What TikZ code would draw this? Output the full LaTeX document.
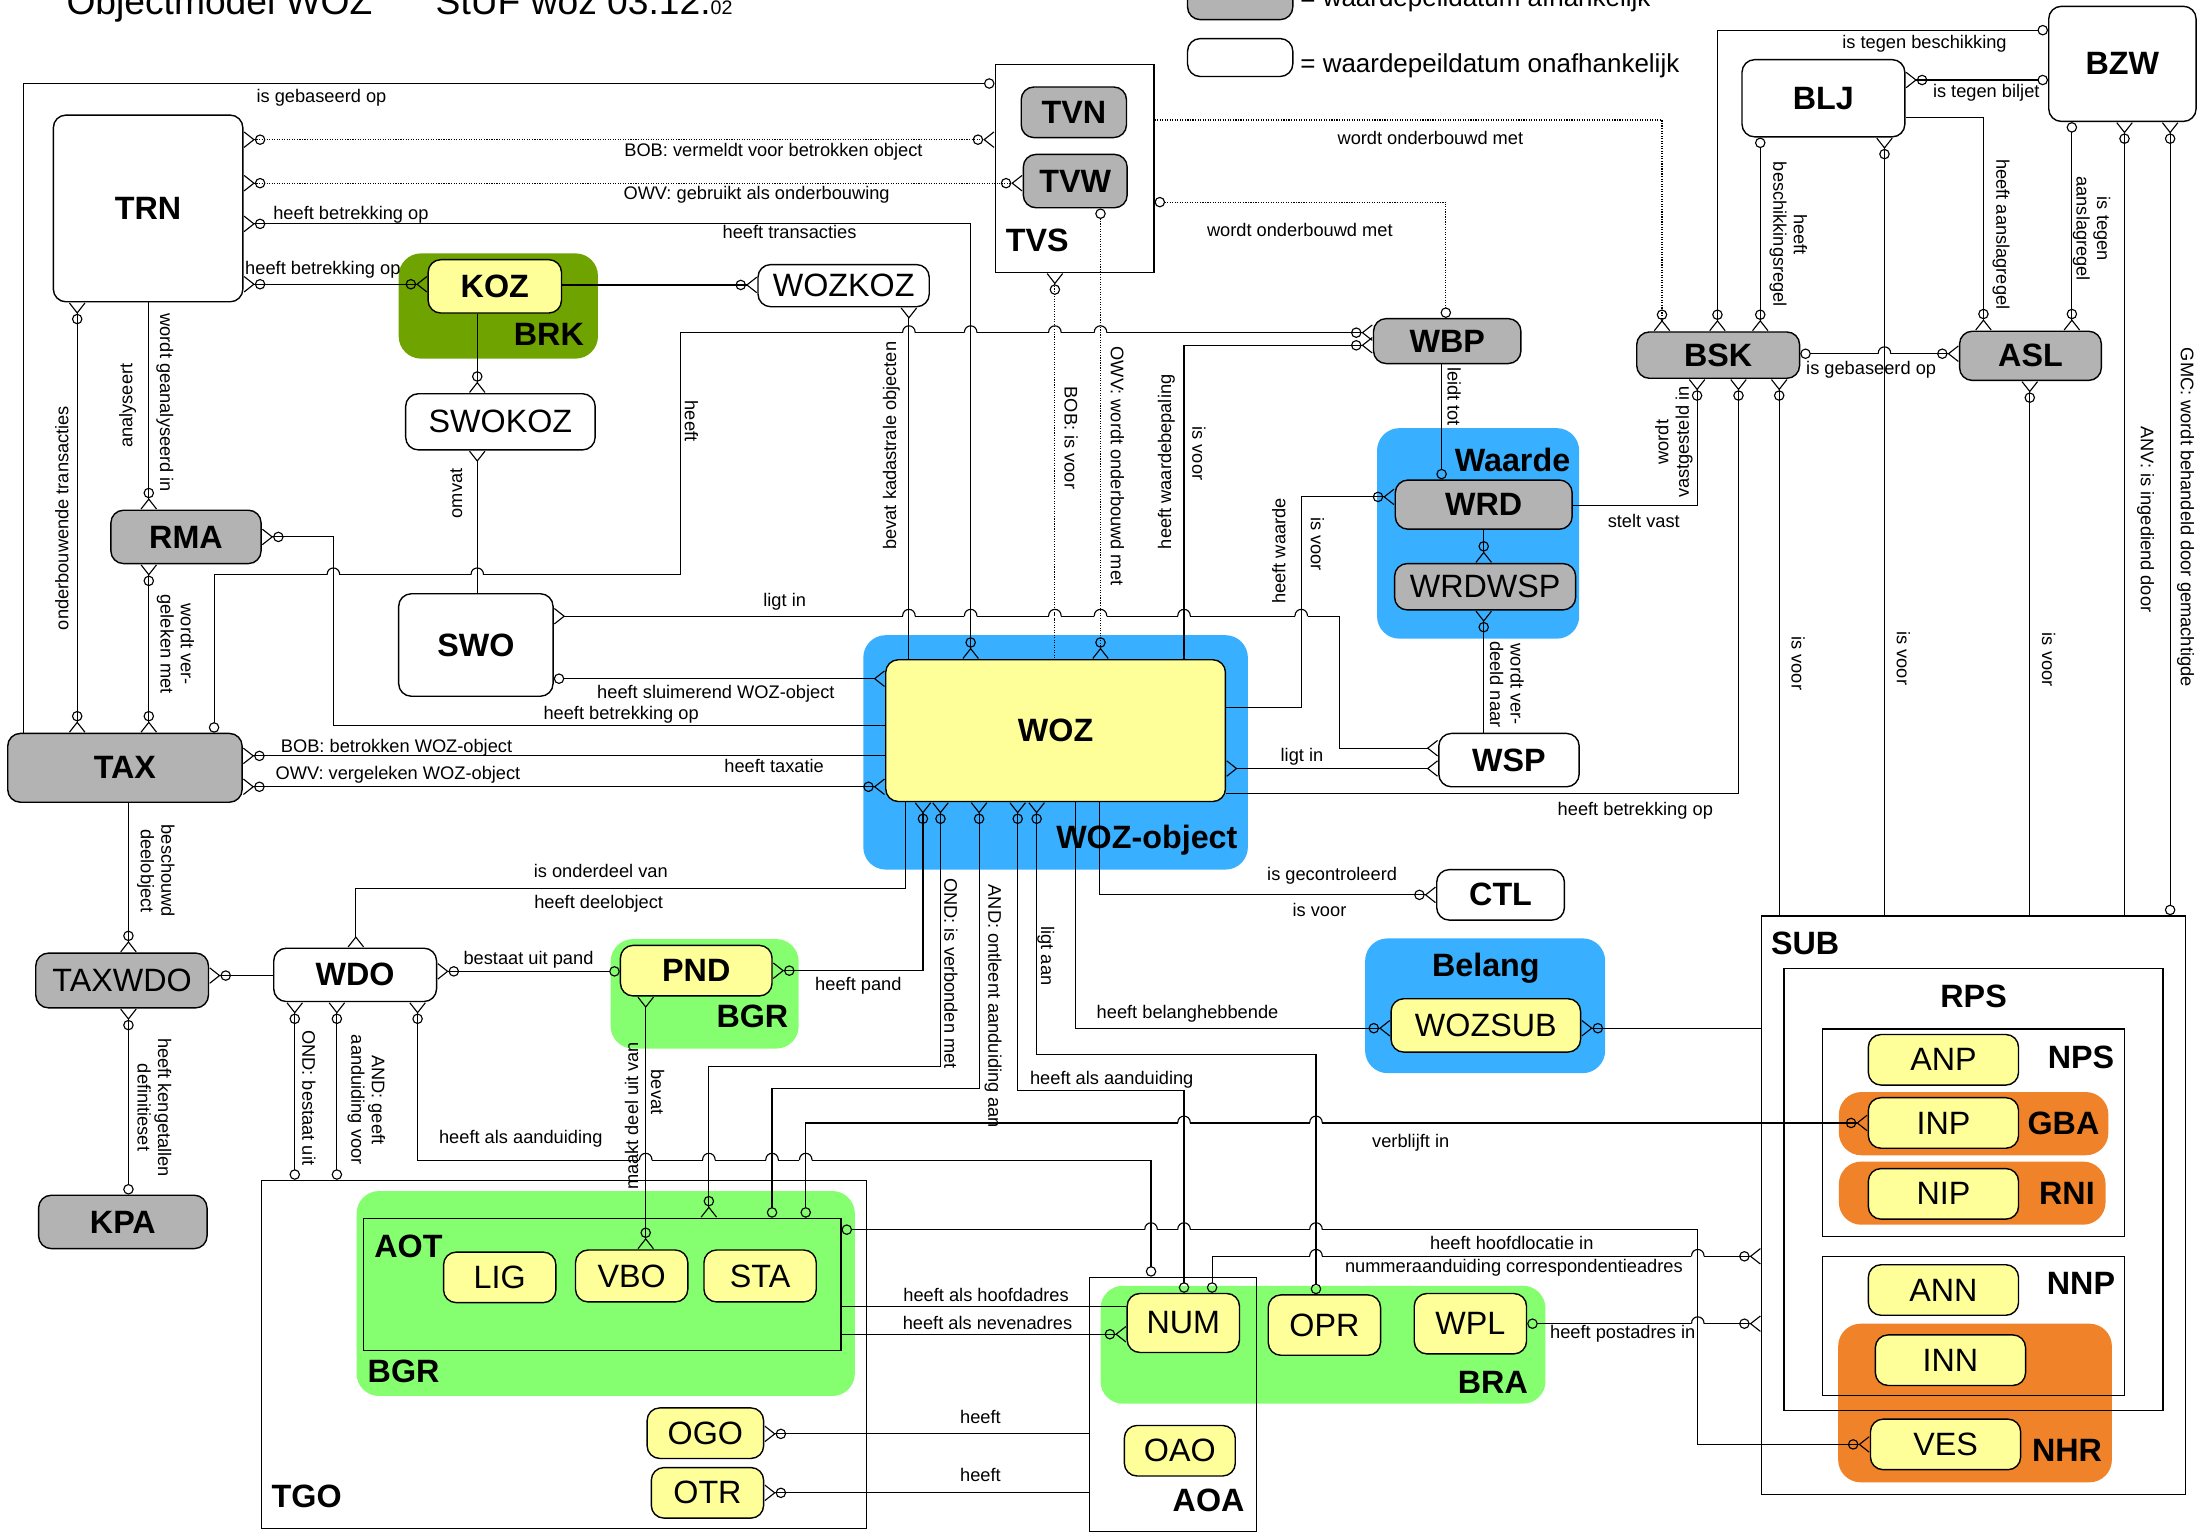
\documentclass[tikz,border=0pt]{standalone}
\usepackage{fontspec}
\setmainfont{Liberation Sans}
\usepackage{xcolor}
\usepackage{tikz}
\usetikzlibrary{arrows.meta}

\definecolor{grijs}{RGB}{179,179,179}
\definecolor{geel}{RGB}{255,255,153}
\definecolor{blauw}{RGB}{56,176,255}
\definecolor{groen}{RGB}{133,255,112}
\definecolor{donkergroen}{RGB}{110,163,0}
\definecolor{oranje}{RGB}{240,131,42}

\tikzset{
  cz/.tip={Circle[open,length=7.5pt]},
  cf/.tip={Straight Barb[reversed,length=7pt,width=11pt]},
  ent/.style={draw, rounded corners=9pt, line width=1pt, fill=white, inner sep=0pt,
    font=\fontsize{23}{26}\selectfont\bfseries},
  entr/.style={ent, font=\fontsize{23}{26}\selectfont},
  grijsent/.style={fill=grijs},
  geelent/.style={fill=geel},
  groep/.style={rounded corners=16pt, inner sep=0pt},
  kader/.style={draw, line width=1pt, inner sep=0pt},
  kop/.style={font=\fontsize{23}{26}\selectfont\bfseries, inner sep=0pt},
  lbl/.style={font=\fontsize{13}{14.5}\selectfont, inner sep=0pt, align=center},
}

\begin{document}
\begin{tikzpicture}[x=1pt, y=-1pt, line width=0.8pt]
  \useasboundingbox (0,0) rectangle (1568,1093.5);

  % titel en legenda
  \node[anchor=base west, inner sep=0pt, font=\fontsize{26.5}{30}\selectfont] (titel) at (47,10) {Objectmodel WOZ};
  \node[anchor=base west, inner sep=0pt, font=\fontsize{26.5}{30}\selectfont] (stuf) at (310,10) {StUF woz 03.12.{\fontsize{14}{16}\selectfont 02}};
  \node[ent, grijsent, minimum width=75, minimum height=28] (lega) at (883.5,0) {};
  \node[anchor=base west, inner sep=0pt, font=\fontsize{18.5}{21}\selectfont] (legatxt) at (926,4.5) {= waardepeildatum afhankelijk};
  \node[ent, minimum width=75, minimum height=27] (legb) at (883.5,41) {};
  \node[anchor=base west, inner sep=0pt, font=\fontsize{18.5}{21}\selectfont] (legbtxt) at (926,51.5) {= waardepeildatum onafhankelijk};

  % groepen
  \node[groep, fill=donkergroen, minimum width=142, minimum height=75] (brk) at (355,218) {};
  \node[groep, fill=blauw, minimum width=274, minimum height=167] (wozobj) at (752,536) {};
  \node[groep, fill=blauw, minimum width=144, minimum height=150] (waarde) at (1053,380) {};
  \node[groep, fill=blauw, minimum width=171, minimum height=96] (belang) at (1058,716.5) {};
  \node[groep, fill=groen, minimum width=134, minimum height=78] (bgrp) at (502,708) {};
  \node[groep, fill=groen, minimum width=355, minimum height=146] (bgra) at (431.5,921.5) {};
  \node[groep, fill=groen, minimum width=317, minimum height=84] (bra) at (942.5,958) {};
  \node[groep, fill=oranje, minimum width=192, minimum height=45] (gba) at (1406,800.5) {};
  \node[groep, fill=oranje, minimum width=190, minimum height=45] (rni) at (1405,850) {};
  \node[groep, fill=oranje, minimum width=195, minimum height=113] (nhr) at (1407,999.5) {};

  % kaders
  \node[kader, minimum width=113, minimum height=148] (tvs) at (765.5,120) {};
  \node[kader, minimum width=302, minimum height=412] (sub) at (1406,858.5) {};
  \node[kader, minimum width=270, minimum height=315] (rps) at (1406,847.5) {};
  \node[kader, minimum width=215, minimum height=148] (nps) at (1406,807) {};
  \node[kader, minimum width=215, minimum height=99] (nnp) at (1406,944.5) {};
  \node[kader, minimum width=431, minimum height=248] (tgo) at (402,965) {};
  \node[kader, minimum width=119, minimum height=181] (aoa) at (835.5,1000.5) {};
  \node[kader, minimum width=340, minimum height=94] (aot) at (429,915) {};

  % groepkoppen
  \node[kop] (kbrk) at (391,238) {BRK};
  \node[kop] (ktvs) at (739,171) {TVS};
  \node[kop] (kwozobj) at (817,598.5) {WOZ-object};
  \node[kop] (kwaarde) at (1077.5,328) {Waarde};
  \node[kop] (kbelang) at (1058.5,690) {Belang};
  \node[kop] (kbgrp) at (536,724) {BGR};
  \node[kop] (kbgra) at (287.5,977) {BGR};
  \node[kop] (kaot) at (291,888) {AOT};
  \node[kop] (ktgo) at (218.5,1066) {TGO};
  \node[kop] (kbra) at (1063.5,984.5) {BRA};
  \node[kop] (kaoa) at (861,1069) {AOA};
  \node[kop] (ksub) at (1286,672) {SUB};
  \node[kop] (krps) at (1406,710) {RPS};
  \node[kop] (knps) at (1482.5,753) {NPS};
  \node[kop] (kgba) at (1470,800.5) {GBA};
  \node[kop] (krni) at (1472.5,850.5) {RNI};
  \node[kop] (knnp) at (1482.5,914.5) {NNP};
  \node[kop] (knhr) at (1472.5,1033) {NHR};

  % objecten
  \node[ent, minimum width=135, minimum height=133] (trn) at (105.5,148.5) {TRN};
  \node[ent, grijsent, minimum width=75, minimum height=36] (tvn) at (765,80) {TVN};
  \node[ent, grijsent, minimum width=74, minimum height=38] (tvw) at (766,129) {TVW};
  \node[ent, geelent, minimum width=95, minimum height=38] (koz) at (352.5,204) {KOZ};
  \node[entr, minimum width=122, minimum height=30] (wozkoz) at (601,203.5) {WOZKOZ};
  \node[entr, minimum width=135, minimum height=40] (swokoz) at (356.5,300.5) {SWOKOZ};
  \node[ent, grijsent, minimum width=107, minimum height=38] (rma) at (132.5,382.5) {RMA};
  \node[ent, minimum width=110, minimum height=73] (swo) at (339,459.5) {SWO};
  \node[ent, grijsent, minimum width=167, minimum height=49] (tax) at (89,547) {TAX};
  \node[ent, geelent, minimum width=242, minimum height=101] (woz) at (752,520.5) {WOZ};
  \node[ent, grijsent, minimum width=105, minimum height=32] (wbp) at (1031,243) {WBP};
  \node[ent, grijsent, minimum width=126, minimum height=35] (wrd) at (1057,359.5) {WRD};
  \node[entr, grijsent, minimum width=129, minimum height=33] (wrdwsp) at (1058,418) {WRDWSP};
  \node[ent, minimum width=100, minimum height=38] (wsp) at (1075,541.5) {WSP};
  \node[ent, grijsent, minimum width=116, minimum height=33] (bsk) at (1224,253) {BSK};
  \node[ent, grijsent, minimum width=101, minimum height=35] (asl) at (1446.5,253.5) {ASL};
  \node[ent, minimum width=116, minimum height=55] (blj) at (1299,70) {BLJ};
  \node[ent, minimum width=105, minimum height=82] (bzw) at (1512,45.5) {BZW};
  \node[ent, minimum width=91, minimum height=36] (ctl) at (1069,637.5) {CTL};
  \node[entr, geelent, minimum width=135, minimum height=38] (wozsub) at (1058.5,730.5) {WOZSUB};
  \node[entr, geelent, minimum width=107, minimum height=36] (anp) at (1384.5,755) {ANP};
  \node[entr, geelent, minimum width=107, minimum height=36] (inp) at (1384.5,800) {INP};
  \node[entr, geelent, minimum width=107, minimum height=36] (nip) at (1384.5,850.5) {NIP};
  \node[entr, geelent, minimum width=107, minimum height=36] (ann) at (1384.5,919) {ANN};
  \node[entr, geelent, minimum width=107, minimum height=36] (inn) at (1389.5,969) {INN};
  \node[entr, geelent, minimum width=107, minimum height=36] (ves) at (1386,1029) {VES};
  \node[entr, grijsent, minimum width=123, minimum height=39] (taxwdo) at (87,698.5) {TAXWDO};
  \node[ent, minimum width=116, minimum height=38] (wdo) at (253,694.5) {WDO};
  \node[ent, grijsent, minimum width=120, minimum height=38] (kpa) at (87.5,870.5) {KPA};
  \node[ent, geelent, minimum width=108, minimum height=36] (pnd) at (496,691.5) {PND};
  \node[entr, geelent, minimum width=80, minimum height=36] (lig) at (356,910) {LIG};
  \node[entr, geelent, minimum width=80, minimum height=37] (vbo) at (450,909) {VBO};
  \node[entr, geelent, minimum width=80, minimum height=37] (sta) at (541.5,909) {STA};
  \node[entr, geelent, minimum width=83, minimum height=36] (ogo) at (502.5,1021) {OGO};
  \node[entr, geelent, minimum width=80, minimum height=36] (otr) at (504,1063.5) {OTR};
  \node[entr, geelent, minimum width=80, minimum height=42] (num) at (843,942.5) {NUM};
  \node[entr, geelent, minimum width=80, minimum height=43] (opr) at (943.5,944) {OPR};
  \node[entr, geelent, minimum width=80, minimum height=43] (wpl) at (1047.5,943) {WPL};
  \node[entr, geelent, minimum width=79, minimum height=36] (oao) at (840.5,1033.5) {OAO};

  % relaties
  \draw[-{cz[]}] (tax.north -| 16.5,0) |- (tvs.west |- 0,59.5);
  \draw[densely dotted, {cf[] cz[]}-{cz[] cf[]}] (trn.east |- 0,99.5) -- (tvs.west |- 0,99.5);
  \draw[densely dotted, {cf[] cz[]}-{cz[] cf[]}] (trn.east |- 0,130.5) -- (tvw.west |- 0,130.5);
  \draw[{cf[] cz[]}-{cz[] cf[]}] (trn.east |- 0,159.5) -| (woz.north -| 691.5,0);
  \draw[{cf[] cz[]}-{cz[] cf[]}] (trn.east |- 0,202.5) -- (koz.west |- 0,202.5);
  \draw[-{cz[] cf[]}] (koz.east |- 0,203) -- (wozkoz.west |- 0,203);
  \draw[-{cz[] cf[]}] (koz.south -| 340,0) -- (swokoz.north -| 340,0);
  \draw[{cf[]}-] (wozkoz.south -| 647.5,0) -- (woz.north -| 647.5,0);
  \draw[{cf[]}-] (swokoz.south -| 340,0) -- (swo.north -| 340,0);
  \draw[{cz[]}-{cz[] cf[]}] (tax.north -| 152.5,0) |- (485,409.5) |- (wbp.west |- 0,237);
  \draw[-{cz[] cf[]}] (trn.south -| 106,0) -- (rma.north -| 106,0);
  \draw[{cf[] cz[]}-{cz[] cf[]}] (trn.south -| 55,0) -- (tax.north -| 55,0);
  \draw[{cf[] cz[]}-{cz[] cf[]}] (rma.south -| 106,0) -- (tax.north -| 106,0);
  \draw[{cf[] cz[]}-] (rma.east |- 0,382.5) -| (237.5,517) -- (woz.west |- 0,517);
  \draw[{cf[]}-{cf[]}] (swo.east |- 0,439) -| (954,533) -- (wsp.west |- 0,533);
  \draw[{cz[]}-{cf[]}] (swo.east |- 0,483.5) -- (woz.west |- 0,483.5);
  \draw[{cf[] cz[]}-] (tax.east |- 0,538.5) -- (woz.west |- 0,538.5);
  \draw[{cf[] cz[]}-{cz[] cf[]}] (tax.east |- 0,560.5) -- (woz.west |- 0,560.5);
  \draw[densely dotted, -{cz[] cf[]}] (tvs.east |- 0,85.5) -| (bsk.north -| 1184,0);
  \draw[densely dotted, {cz[]}-{cz[]}] (tvs.east |- 0,144) -| (wbp.north -| 1030,0);
  \draw[densely dotted, {cf[] cz[]}-] (tvs.south -| 751.5,0) -- (woz.north -| 751.5,0);
  \draw[densely dotted, {cz[]}-{cz[] cf[]}] (tvw.south -| 784,0) -- (woz.north -| 784,0);
  \draw[-{cz[] cf[]}] (woz.north -| 843.5,0) |- (wbp.west |- 0,246);
  \draw[-{cz[]}] (wbp.south -| 1027,0) -- (wrd.north -| 1027,0);
  \draw[-{cz[] cf[]}] (wrd.south -| 1057,0) -- (wrdwsp.north -| 1057,0);
  \draw[{cf[] cz[]}-] (wrdwsp.south -| 1057,0) -- (wsp.north -| 1057,0);
  \draw[-{cz[] cf[]}] (woz.east |- 0,504) -| (927,354) -- (wrd.west |- 0,354);
  \draw[-{cz[] cf[]}] (wrd.east |- 0,360) -| (bsk.south -| 1209,0);
  \draw[-{cz[] cf[]}] (woz.east |- 0,565) -| (bsk.south -| 1238.5,0);
  \draw[{cz[]}-{cz[] cf[]}] (bsk.east |- 0,252) -- (asl.west |- 0,252);
  \draw[{cz[]}-{cz[] cf[]}] (bzw.west |- 0,21.5) -| (bsk.north -| 1223.5,0);
  \draw[{cf[] cz[]}-{cz[]}] (blj.east |- 0,57) -- (bzw.west |- 0,57);
  \draw[{cz[]}-{cz[] cf[]}] (blj.south -| 1254,0) -- (bsk.north -| 1254,0);
  \draw[-{cz[] cf[]}] (blj.east |- 0,84) -| (asl.north -| 1413,0);
  \draw[{cz[]}-{cz[] cf[]}] (bzw.south -| 1476,0) -- (asl.north -| 1476,0);
  \draw[{cf[] cz[]}-] (blj.south -| 1342.5,0) -- (sub.north -| 1342.5,0);
  \draw[{cf[] cz[]}-] (bzw.south -| 1513.5,0) -- (sub.north -| 1513.5,0);
  \draw[{cf[] cz[]}-{cz[]}] (bzw.south -| 1546,0) -- (sub.north -| 1546,0);
  \draw[{cf[] cz[]}-] (bsk.south -| 1267.5,0) -- (sub.north -| 1267.5,0);
  \draw[{cf[] cz[]}-] (asl.south -| 1446,0) -- (sub.north -| 1446,0);
  \draw[{cf[]}-{cf[]}] (woz.east |- 0,547.5) -- (wsp.west |- 0,547.5);
  \draw[-{cz[] cf[]}] (woz.south -| 783,0) |- (ctl.west);
  \draw[-{cz[] cf[]}] (woz.south -| 766,0) |- (wozsub.west |- 0,732.5);
  \draw[{cf[] cz[]}-] (wozsub.east |- 0,732.5) -- (sub.west |- 0,732.5);
  \draw[-{cf[]}] (woz.south -| 645,0) |- (253.5,633) -- (wdo.north -| 253.5,0);
  \draw[{cf[] cz[]}-{cz[] cf[]}] (woz.south -| 657.5,0) |- (pnd.east |- 0,691.5);
  \draw[{cf[] cz[]}-{cz[] cf[]}] (woz.south -| 670,0) |- (505,759.5) -- (aot.north -| 505,0);
  \draw[{cf[] cz[]}-{cz[]}] (woz.south -| 697.5,0) |- (550,775.5) -- (aot.north -| 550,0);
  \draw[{cf[] cz[]}-{cz[]}] (woz.south -| 725,0) |- (843.5,777) -- (num.north -| 843.5,0);
  \draw[{cf[] cz[]}-{cz[]}] (woz.south -| 738.5,0) |- (937.5,751.5) -- (opr.north -| 937.5,0);
  \draw[{cz[]}-{cz[] cf[]}] (aot.north -| 574,0) |- (inp.west |- 0,800);
  \draw[-{cz[] cf[]}] (tax.south -| 91.5,0) -- (taxwdo.north -| 91.5,0);
  \draw[{cf[] cz[]}-] (taxwdo.east |- 0,695) -- (wdo.west |- 0,695);
  \draw[{cf[] cz[]}-{cz[]}] (taxwdo.south -| 91.5,0) -- (kpa.north -| 91.5,0);
  \draw[{cf[] cz[]}-{cz[]}] (wdo.east |- 0,692) -- (pnd.west |- 0,692);
  \draw[{cf[]}-{cz[] cf[]}] (pnd.south -| 460,0) -- (vbo.north -| 460,0);
  \draw[{cf[] cz[]}-{cz[]}] (wdo.south -| 210,0) -- (tgo.north -| 210,0);
  \draw[{cf[] cz[]}-{cz[]}] (wdo.south -| 240,0) -- (tgo.north -| 240,0);
  \draw[{cf[] cz[]}-{cz[]}] (wdo.south -| 297.5,0) |- (820,826.5) -- (aoa.north -| 820,0);
  \draw[{cz[]}-{cz[] cf[]}] (aot.east |- 0,876) -| (1209.5,1029) -- (ves.west |- 0,1029);
  \draw[{cz[]}-{cz[] cf[]}] (num.north -| 863.5,0) |- (sub.west |- 0,895);
  \draw[{cz[]}-{cz[] cf[]}] (wpl.east |- 0,943) -- (sub.west |- 0,943);
  \draw (aot.east |- 0,931) -- (num.west |- 0,931);
  \draw[-{cz[] cf[]}] (aot.east |- 0,950.5) -- (num.west |- 0,950.5);
  \draw[{cf[] cz[]}-] (ogo.east |- 0,1021.5) -- (aoa.west |- 0,1021.5);
  \draw[{cf[] cz[]}-] (otr.east |- 0,1063.5) -- (aoa.west |- 0,1063.5);

  % sprongen waar lijnen elkaar kruisen
  \foreach \hx/\hy in {647.5/237, 691.5/237, 647.5/439, 691.5/439, 843.5/439, 927/439,
      237.5/409.5, 340/409.5, 1342.5/252, 460/826.5, 505/826.5, 550/826.5, 574/826.5,
      843.5/800, 937.5/800, 820/876, 843.5/876, 937.5/876, 937.5/895, 1209.5/895, 1209.5/943} {
    \fill[white] (\hx-4.5,\hy-1.2) rectangle (\hx+4.5,\hy+1.2);
    \draw (\hx,\hy-2.5) -- (\hx,\hy+2.5);
    \draw (\hx-4.5,\hy) .. controls (\hx-4.5,\hy-6.5) and (\hx+4.5,\hy-6.5) .. (\hx+4.5,\hy);
  }
  \foreach \hx/\hy in {751.5/237, 784/237, 751.5/439, 784/439} {
    \fill[white] (\hx-4.5,\hy-1.2) rectangle (\hx+4.5,\hy+1.2);
    \draw[densely dotted] (\hx,\hy-2.5) -- (\hx,\hy+2.5);
    \draw (\hx-4.5,\hy) .. controls (\hx-4.5,\hy-6.5) and (\hx+4.5,\hy-6.5) .. (\hx+4.5,\hy);
  }

  % teksten bij de relaties
  \node[lbl] (t01) at (229,69.5) {is gebaseerd op};
  \node[lbl] (t02) at (551,108) {BOB: vermeldt voor betrokken object};
  \node[lbl] (t03) at (539,138.5) {OWV: gebruikt als onderbouwing};
  \node[lbl] (t04) at (250,153) {heeft betrekking op};
  \node[lbl] (t05) at (562.5,165.5) {heeft transacties};
  \node[lbl] (t06) at (230,192.5) {heeft betrekking op};
  \node[lbl] (t07) at (1019,98.5) {wordt onderbouwd met};
  \node[lbl] (t08) at (926,163.5) {wordt onderbouwd met};
  \node[lbl] (t09) at (1371,31) {is tegen beschikking};
  \node[lbl] (t10) at (1415,66) {is tegen biljet};
  \node[lbl] (t11) at (1333,263.5) {is gebaseerd op};
  \node[lbl] (t12) at (559,428.5) {ligt in};
  \node[lbl] (t13) at (510,494) {heeft sluimerend WOZ-object};
  \node[lbl] (t14) at (442.5,509.5) {heeft betrekking op};
  \node[lbl] (t15) at (282.5,532.5) {BOB: betrokken WOZ-object};
  \node[lbl] (t16) at (551.5,545.5) {heeft taxatie};
  \node[lbl] (t17) at (283.5,552) {OWV: vergeleken WOZ-object};
  \node[lbl] (t18) at (927.5,539) {ligt in};
  \node[lbl] (t19) at (1171,371.5) {stelt vast};
  \node[lbl] (t20) at (1165,577.5) {heeft betrekking op};
  \node[lbl] (t21) at (949,624) {is gecontroleerd};
  \node[lbl] (t22) at (940,648) {is voor};
  \node[lbl] (t23) at (846,722) {heeft belanghebbende};
  \node[lbl] (t24) at (428,620.5) {is onderdeel van};
  \node[lbl] (t25) at (426.5,644) {heeft deelobject};
  \node[lbl] (t26) at (376.5,684) {bestaat uit pand};
  \node[lbl] (t27) at (611.5,702) {heeft pand};
  \node[lbl] (t28) at (792,769) {heeft als aanduiding};
  \node[lbl] (t29) at (371,811) {heeft als aanduiding};
  \node[lbl] (t30) at (1005,814) {verblijft in};
  \node[lbl] (t31) at (1077,885.5) {heeft hoofdlocatie in};
  \node[lbl] (t32) at (1078.5,903.5) {nummeraanduiding correspondentieadres};
  \node[lbl] (t33) at (702.5,922.5) {heeft als hoofdadres};
  \node[lbl] (t34) at (703.5,942.5) {heeft als nevenadres};
  \node[lbl] (t35) at (1156,950.5) {heeft postadres in};
  \node[lbl] (t36) at (698.5,1009.5) {heeft};
  \node[lbl] (t37) at (698.5,1051) {heeft};

  % gedraaide teksten
  \node[lbl, rotate=90] (r01) at (44,369) {onderbouwende transacties};
  \node[lbl, rotate=90] (r02) at (91,289) {analyseert};
  \node[lbl, rotate=-90] (r03) at (117.5,287) {wordt geanalyseerd in};
  \node[lbl, rotate=-90] (r04) at (125,459) {wordt ver-\\geleken met};
  \node[lbl, rotate=90] (r05) at (325,351.5) {omvat};
  \node[lbl, rotate=-90] (r06) at (492.5,300) {heeft};
  \node[lbl, rotate=90] (r07) at (635,317.5) {bevat kadastrale objecten};
  \node[lbl, rotate=-90] (r08) at (763,312) {BOB: is voor};
  \node[lbl, rotate=-90] (r09) at (796,332) {OWV: wordt onderbouwd met};
  \node[lbl, rotate=90] (r10) at (831,329) {heeft waardebepaling};
  \node[lbl, rotate=-90] (r11) at (854,323) {is voor};
  \node[lbl, rotate=-90] (r12) at (1036,282.5) {leidt tot};
  \node[lbl, rotate=90] (r13) at (911,392.5) {heeft waarde};
  \node[lbl, rotate=-90] (r14) at (938.5,387.5) {is voor};
  \node[lbl, rotate=90] (r15) at (1192.5,315) {wordt\\vastgesteld in};
  \node[lbl, rotate=-90] (r16) at (1073.5,487.5) {wordt ver-\\deeld naar};
  \node[lbl, rotate=-90] (r17) at (1274,167) {heeft\\beschikkingsregel};
  \node[lbl, rotate=-90] (r18) at (1425.5,167) {heeft aanslagregel};
  \node[lbl, rotate=-90] (r19) at (1490,163) {is tegen\\aanslagregel};
  \node[lbl, rotate=-90] (r20) at (1281,472.5) {is voor};
  \node[lbl, rotate=-90] (r21) at (1356,469) {is voor};
  \node[lbl, rotate=-90] (r22) at (1459.5,470) {is voor};
  \node[lbl, rotate=-90] (r23) at (1528.5,370) {ANV: is ingediend door};
  \node[lbl, rotate=-90] (r24) at (1557,368.5) {GMC: wordt behandeld door gemachtigde};
  \node[lbl, rotate=-90] (r25) at (111,620.5) {beschouwd\\deelobject};
  \node[lbl, rotate=-90] (r26) at (110,789) {heeft kengetallen\\definitieset};
  \node[lbl, rotate=-90] (r27) at (220,782) {OND: bestaat uit};
  \node[lbl, rotate=-90] (r28) at (261,783.5) {AND: geeft\\aanduiding voor};
  \node[lbl, rotate=90] (r29) at (450,795) {maakt deel uit van};
  \node[lbl, rotate=-90] (r30) at (468.5,778) {bevat};
  \node[lbl, rotate=-90] (r31) at (677.5,693.5) {OND: is verbonden met};
  \node[lbl, rotate=-90] (r32) at (707.5,717) {AND: ontleent aanduiding aan};
  \node[lbl, rotate=-90] (r33) at (745,681) {ligt aan};
\end{tikzpicture}
\end{document}
